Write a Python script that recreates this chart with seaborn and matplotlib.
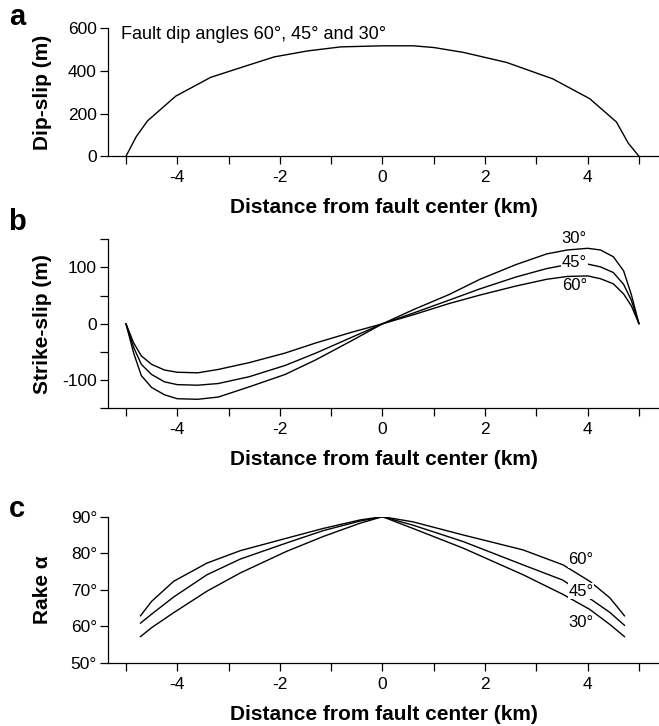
import matplotlib
matplotlib.use("Agg")
import matplotlib.pyplot as plt
import pandas as pd
import seaborn as sns
from matplotlib.ticker import FixedLocator, FuncFormatter

# panel a: dip-slip (same for all dip angles)
dip_x = [-5, -4.8, -4.58, -4.03, -3.35, -2.76, -2.11, -1.46, -0.81, 0,
         0.6, 1.0, 1.58, 2.42, 3.32, 4.04, 4.56, 4.79, 5]
dip_slip = [0, 92, 166, 282, 370, 416, 466, 494, 513, 518,
            518, 510, 487, 440, 363, 270, 161, 62, 0]

# panel b: strike-slip
strike_x = [-5, -4.85, -4.7, -4.5, -4.25, -4.0, -3.6, -3.2, -2.6, -1.9, -1.3, -0.6, 0,
            0.6, 1.3, 1.9, 2.6, 3.2, 3.6, 4.0, 4.25, 4.5, 4.7, 4.85, 5]
strike_30 = [0, -52, -92, -113, -126, -133, -134, -130, -112, -90, -64, -30, 0,
             25, 52, 79, 105, 124, 131, 134, 131, 119, 94, 52, 0]
strike_45 = [0, -42, -72, -90, -103, -108, -109, -106, -94, -74, -52, -24, 0,
             19, 42, 62, 83, 98, 105, 106, 101, 91, 70, 42, 0]
strike_60 = [0, -34, -57, -72, -82, -86, -87, -81, -69, -52, -34, -15, 0,
             16, 36, 51, 67, 79, 84, 85, 80, 71, 53, 32, 0]

# panel c: rake
rake_x = [-4.72, -4.5, -4.07, -3.42, -2.77, -1.87, -1.15, -0.44, 0,
          0.59, 1.57, 2.74, 3.52, 4.04, 4.43, 4.72]
rake_60 = [62.8, 66.8, 72.3, 77.3, 80.7, 84.1, 86.8, 89.1, 90,
           88.6, 85.0, 80.9, 76.8, 72.3, 67.8, 62.8]
rake_45 = [60.8, 63.3, 68.0, 74.1, 78.4, 82.8, 86.2, 88.8, 90,
           87.7, 83.2, 76.8, 72.6, 67.6, 63.8, 60.2]
rake_30 = [57.1, 59.6, 63.7, 69.6, 74.6, 80.5, 84.6, 88.2, 90,
           86.8, 81.4, 74.1, 68.7, 64.6, 60.5, 57.1]

angles = ["30°", "45°", "60°"]

FIG_W, FIG_H = 659, 726


def long_df(x, series):
    rows = []
    for name, vals in series.items():
        rows.append(pd.DataFrame({"x": x, "y": vals, "dip": name}))
    return pd.concat(rows, ignore_index=True)


def style_axis(ax, xlabel, ylabel):
    sns.despine(ax=ax)
    ax.set_xlim(-5.35, 5.39)
    ax.xaxis.set_major_locator(FixedLocator([-4, -2, 0, 2, 4]))
    ax.xaxis.set_minor_locator(FixedLocator([-5, -3, -1, 1, 3, 5]))
    ax.xaxis.set_major_formatter(FuncFormatter(lambda v, _: f"{v:g}"))
    ax.tick_params(axis="both", which="both", direction="out", length=5.5,
                   width=0.9, color="black", labelsize=12.5, labelcolor="black")
    ax.tick_params(axis="x", which="both", pad=4.5)
    ax.tick_params(axis="y", which="both", pad=2.5)
    ax.set_xlabel(xlabel, fontsize=15, fontweight="bold", color="black")
    ax.set_ylabel(ylabel, fontsize=15, fontweight="bold", color="black")
    h_px = ax.get_position().height * FIG_H
    ax.xaxis.set_label_coords(0.5, -42 / h_px)
    ax.yaxis.set_label_coords(-0.102, 0.5)
    for side in ["left", "bottom"]:
        ax.spines[side].set_linewidth(0.9)
        ax.spines[side].set_color("black")


sns.set_theme(style="ticks")
plt.rcParams["font.family"] = ["Liberation Sans", "DejaVu Sans"]
plt.rcParams["axes.unicode_minus"] = False
plt.rcParams["text.color"] = "black"

fig = plt.figure(figsize=(FIG_W / 100, FIG_H / 100), dpi=100)
left, width = 108 / FIG_W, 551 / FIG_W
ax_a = fig.add_axes([left, 0.7847, width, 0.1763])
ax_b = fig.add_axes([left, 0.4376, width, 0.2328])
ax_c = fig.add_axes([left, 0.0872, width, 0.2011])

xlabel = "Distance from fault center (km)"

# a
df_a = pd.DataFrame({"x": dip_x, "y": dip_slip})
sns.lineplot(data=df_a, x="x", y="y", color="black", linewidth=1.0,
             estimator=None, ax=ax_a)
style_axis(ax_a, xlabel, "Dip-slip (m)")
ax_a.set_ylim(0, 600)
ax_a.yaxis.set_major_locator(FixedLocator([0, 200, 400, 600]))
ax_a.yaxis.set_major_formatter(FuncFormatter(lambda v, _: f"{v:g}"))
ax_a.text(-5.09, 573, "Fault dip angles 60°, 45° and 30°", fontsize=13,
          ha="left", va="center")

# b
df_b = long_df(strike_x, {"30°": strike_30, "45°": strike_45, "60°": strike_60})
sns.lineplot(data=df_b, x="x", y="y", hue="dip", hue_order=angles,
             palette=["black"] * 3, linewidth=1.0, estimator=None,
             legend=False, ax=ax_b)
style_axis(ax_b, xlabel, "Strike-slip (m)")
ax_b.set_ylim(-150, 150)
ax_b.yaxis.set_major_locator(FixedLocator([-100, 0, 100]))
ax_b.yaxis.set_minor_locator(FixedLocator([-150, -50, 50, 150]))
ax_b.yaxis.set_major_formatter(FuncFormatter(lambda v, _: f"{v:g}"))
label_box = dict(facecolor="white", edgecolor="none", pad=0.5)
ax_b.text(3.73, 151, "30°", fontsize=12, ha="center", va="center", clip_on=False)
ax_b.text(3.74, 109, "45°", fontsize=12, ha="center", va="center",
          bbox=label_box, zorder=5)
ax_b.text(3.74, 67.7, "60°", fontsize=12, ha="center", va="center")

# c
df_c = long_df(rake_x, {"30°": rake_30, "45°": rake_45, "60°": rake_60})
sns.lineplot(data=df_c, x="x", y="y", hue="dip", hue_order=angles,
             palette=["black"] * 3, linewidth=1.0, estimator=None,
             legend=False, ax=ax_c)
style_axis(ax_c, xlabel, "Rake α")
ax_c.set_ylim(50, 90)
ax_c.yaxis.set_major_locator(FixedLocator([50, 60, 70, 80, 90]))
ax_c.yaxis.set_major_formatter(FuncFormatter(lambda v, _: f"{v:g}°"))
ax_c.text(3.87, 78.2, "60°", fontsize=12, ha="center", va="center",
          bbox=label_box, zorder=5)
ax_c.text(3.87, 69.6, "45°", fontsize=12, ha="center", va="center",
          bbox=label_box, zorder=5)
ax_c.text(3.87, 61.0, "30°", fontsize=12, ha="center", va="center")

for letter, ypx in [("a", 17), ("b", 222), ("c", 509)]:
    fig.text(17 / FIG_W, 1 - ypx / FIG_H, letter, fontsize=21, fontweight="bold",
             ha="center", va="center")

fig.savefig("out.png", dpi=100)
